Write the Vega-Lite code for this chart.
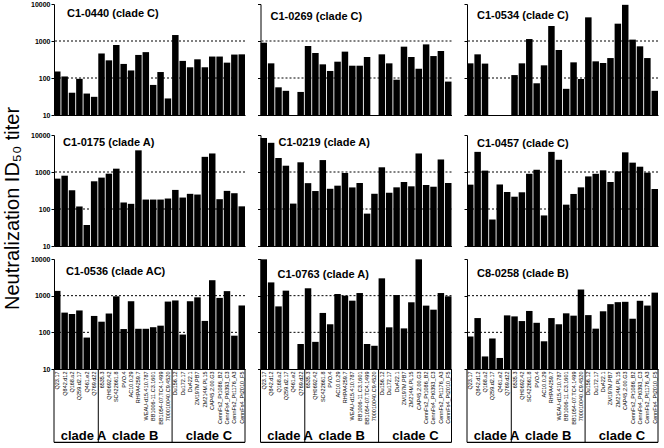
{
"$schema": "https://vega.github.io/schema/vega-lite/v6.json",
"background": "white",
"padding": {"left": 2, "top": 0, "right": 0, "bottom": 0},
"title": {"text": "Neutralization ID₅₀ titer", "orient": "left", "anchor": "middle", "fontSize": 20, "font": "Liberation Sans", "fontWeight": "normal", "color": "#000", "offset": 8, "dx": 13},
"datasets": {
"levels": [{"level": 100}, {"level": 1000}],
"panels": [
{"serum": "C1-0440", "label": "C1-0440 (clade C)"},
{"serum": "C1-0269", "label": "C1-0269 (clade C)"},
{"serum": "C1-0534", "label": "C1-0534 (clade C)"},
{"serum": "C1-0175", "label": "C1-0175 (clade A)"},
{"serum": "C1-0219", "label": "C1-0219 (clade A)"},
{"serum": "C1-0457", "label": "C1-0457 (clade C)"},
{"serum": "C1-0536", "label": "C1-0536 (clade AC)"},
{"serum": "C1-0763", "label": "C1-0763 (clade A)"},
{"serum": "C8-0258", "label": "C8-0258 (clade B)"}
],
"clades": [
{"clade": "clade A", "first": "Q23.17", "last": "Q769.d22", "mid": "Q461.e2"},
{"clade": "clade B", "first": "6535.3", "last": "700010040.C9.4520", "mid": "RHPA4259.7"},
{"clade": "clade C", "first": "Du156.12", "last": "CennFs4_Pt2010_F5", "mid": "CAP45.2.00.G3"}
],
"titers": [
{"serum":"C1-0440","virus":"Q23.17","titer":150},{"serum":"C1-0440","virus":"Q842.d12","titer":110},{"serum":"C1-0440","virus":"Q168.a2","titer":40},{"serum":"C1-0440","virus":"Q259.d2.17","titer":95},{"serum":"C1-0440","virus":"Q461.e2","titer":38},{"serum":"C1-0440","virus":"Q769.d22","titer":31},{"serum":"C1-0440","virus":"6535.3","titer":460},{"serum":"C1-0440","virus":"QH0692.42","titer":300},{"serum":"C1-0440","virus":"SC422661.8","titer":780},{"serum":"C1-0440","virus":"PVO.4","titer":240},{"serum":"C1-0440","virus":"AC10.0.29","titer":160},{"serum":"C1-0440","virus":"RHPA4259.7","titer":420},{"serum":"C1-0440","virus":"WEAU-d15.410.787","titer":500},{"serum":"C1-0440","virus":"BB1006-11.C3.1601","titer":65},{"serum":"C1-0440","virus":"BB1054-07.TC4.1499","titer":145},{"serum":"C1-0440","virus":"700010040.C9.4520","titer":28},{"serum":"C1-0440","virus":"Du156.12","titer":1450},{"serum":"C1-0440","virus":"Du172.17","titer":290},{"serum":"C1-0440","virus":"Du422.1","titer":195},{"serum":"C1-0440","virus":"ZM197M.PB7","titer":320},{"serum":"C1-0440","virus":"ZM214M.PL15","titer":195},{"serum":"C1-0440","virus":"CAP45.2.00.G3","titer":380},{"serum":"C1-0440","virus":"CennFs2_Pt1086_B2","titer":380},{"serum":"C1-0440","virus":"CennFs4_Pt0393_C3","titer":260},{"serum":"C1-0440","virus":"CennFs2_Pt1176_A3","titer":430},{"serum":"C1-0440","virus":"CennFs4_Pt2010_F5","titer":436},
{"serum":"C1-0269","virus":"Q23.17","titer":900},{"serum":"C1-0269","virus":"Q842.d12","titer":249},{"serum":"C1-0269","virus":"Q168.a2","titer":56},{"serum":"C1-0269","virus":"Q259.d2.17","titer":45},{"serum":"C1-0269","virus":"Q769.d22","titer":42},{"serum":"C1-0269","virus":"6535.3","titer":733},{"serum":"C1-0269","virus":"QH0692.42","titer":474},{"serum":"C1-0269","virus":"SC422661.8","titer":234},{"serum":"C1-0269","virus":"PVO.4","titer":155},{"serum":"C1-0269","virus":"AC10.0.29","titer":276},{"serum":"C1-0269","virus":"RHPA4259.7","titer":516},{"serum":"C1-0269","virus":"WEAU-d15.410.787","titer":215},{"serum":"C1-0269","virus":"BB1006-11.C3.1601","titer":215},{"serum":"C1-0269","virus":"BB1054-07.TC4.1499","titer":370},{"serum":"C1-0269","virus":"Du156.12","titer":436},{"serum":"C1-0269","virus":"Du172.17","titer":249},{"serum":"C1-0269","virus":"Du422.1","titer":90},{"serum":"C1-0269","virus":"ZM197M.PB7","titer":703},{"serum":"C1-0269","virus":"ZM214M.PL15","titer":370},{"serum":"C1-0269","virus":"CAP45.2.00.G3","titer":178},{"serum":"C1-0269","virus":"CennFs2_Pt1086_B2","titer":810},{"serum":"C1-0269","virus":"CennFs4_Pt0393_C3","titer":392},{"serum":"C1-0269","virus":"CennFs2_Pt1176_A3","titer":537},{"serum":"C1-0269","virus":"CennFs4_Pt2010_F5","titer":80},
{"serum":"C1-0534","virus":"Q23.17","titer":249},{"serum":"C1-0534","virus":"Q842.d12","titer":436},{"serum":"C1-0534","virus":"Q168.a2","titer":245},{"serum":"C1-0534","virus":"6535.3","titer":120},{"serum":"C1-0534","virus":"QH0692.42","titer":249},{"serum":"C1-0534","virus":"SC422661.8","titer":1130},{"serum":"C1-0534","virus":"PVO.4","titer":72},{"serum":"C1-0534","virus":"AC10.0.29","titer":220},{"serum":"C1-0534","virus":"RHPA4259.7","titer":2540},{"serum":"C1-0534","virus":"WEAU-d15.410.787","titer":571},{"serum":"C1-0534","virus":"BB1006-11.C3.1601","titer":51},{"serum":"C1-0534","virus":"BB1054-07.TC4.1499","titer":265},{"serum":"C1-0534","virus":"700010040.C9.4520","titer":94},{"serum":"C1-0534","virus":"Du156.12","titer":4360},{"serum":"C1-0534","virus":"Du172.17","titer":282},{"serum":"C1-0534","virus":"Du422.1","titer":254},{"serum":"C1-0534","virus":"ZM197M.PB7","titer":346},{"serum":"C1-0534","virus":"ZM214M.PL15","titer":2940},{"serum":"C1-0534","virus":"CAP45.2.00.G3","titer":9500},{"serum":"C1-0534","virus":"CennFs2_Pt1086_B2","titer":1090},{"serum":"C1-0534","virus":"CennFs4_Pt0393_C3","titer":718},{"serum":"C1-0534","virus":"CennFs2_Pt1176_A3","titer":346},{"serum":"C1-0534","virus":"CennFs4_Pt2010_F5","titer":45},
{"serum":"C1-0175","virus":"Q23.17","titer":662},{"serum":"C1-0175","virus":"Q842.d12","titer":795},{"serum":"C1-0175","virus":"Q168.a2","titer":321},{"serum":"C1-0175","virus":"Q259.d2.17","titer":117},{"serum":"C1-0175","virus":"Q461.e2","titer":37},{"serum":"C1-0175","virus":"Q769.d22","titer":561},{"serum":"C1-0175","virus":"6535.3","titer":705},{"serum":"C1-0175","virus":"QH0692.42","titer":902},{"serum":"C1-0175","virus":"SC422661.8","titer":1230},{"serum":"C1-0175","virus":"PVO.4","titer":150},{"serum":"C1-0175","virus":"AC10.0.29","titer":138},{"serum":"C1-0175","virus":"RHPA4259.7","titer":3850},{"serum":"C1-0175","virus":"WEAU-d15.410.787","titer":180},{"serum":"C1-0175","virus":"BB1006-11.C3.1601","titer":180},{"serum":"C1-0175","virus":"BB1054-07.TC4.1499","titer":180},{"serum":"C1-0175","virus":"700010040.C9.4520","titer":192},{"serum":"C1-0175","virus":"Du156.12","titer":328},{"serum":"C1-0175","virus":"Du172.17","titer":204},{"serum":"C1-0175","virus":"Du422.1","titer":257},{"serum":"C1-0175","virus":"ZM197M.PB7","titer":246},{"serum":"C1-0175","virus":"ZM214M.PL15","titer":2570},{"serum":"C1-0175","virus":"CAP45.2.00.G3","titer":3170},{"serum":"C1-0175","virus":"CennFs2_Pt1086_B2","titer":184},{"serum":"C1-0175","virus":"CennFs4_Pt0393_C3","titer":309},{"serum":"C1-0175","virus":"CennFs2_Pt1176_A3","titer":267},{"serum":"C1-0175","virus":"CennFs4_Pt2010_F5","titer":118},
{"serum":"C1-0219","virus":"Q23.17","titer":8300},{"serum":"C1-0219","virus":"Q842.d12","titer":6150},{"serum":"C1-0219","virus":"Q168.a2","titer":2390},{"serum":"C1-0219","virus":"Q259.d2.17","titer":1480},{"serum":"C1-0219","virus":"Q461.e2","titer":140},{"serum":"C1-0219","virus":"Q769.d22","titer":1830},{"serum":"C1-0219","virus":"6535.3","titer":500},{"serum":"C1-0219","virus":"QH0692.42","titer":306},{"serum":"C1-0219","virus":"SC422661.8","titer":2100},{"serum":"C1-0219","virus":"PVO.4","titer":352},{"serum":"C1-0219","virus":"AC10.0.29","titer":427},{"serum":"C1-0219","virus":"RHPA4259.7","titer":940},{"serum":"C1-0219","virus":"WEAU-d15.410.787","titer":383},{"serum":"C1-0219","virus":"BB1006-11.C3.1601","titer":504},{"serum":"C1-0219","virus":"BB1054-07.TC4.1499","titer":75},{"serum":"C1-0219","virus":"700010040.C9.4520","titer":258},{"serum":"C1-0219","virus":"Du156.12","titer":1340},{"serum":"C1-0219","virus":"Du172.17","titer":275},{"serum":"C1-0219","virus":"Du422.1","titer":385},{"serum":"C1-0219","virus":"ZM197M.PB7","titer":537},{"serum":"C1-0219","virus":"ZM214M.PL15","titer":410},{"serum":"C1-0219","virus":"CAP45.2.00.G3","titer":3170},{"serum":"C1-0219","virus":"CennFs2_Pt1086_B2","titer":445},{"serum":"C1-0219","virus":"CennFs4_Pt0393_C3","titer":400},{"serum":"C1-0219","virus":"CennFs2_Pt1176_A3","titer":2180},{"serum":"C1-0219","virus":"CennFs4_Pt2010_F5","titer":504},
{"serum":"C1-0457","virus":"Q23.17","titer":455},{"serum":"C1-0457","virus":"Q842.d12","titer":3500},{"serum":"C1-0457","virus":"Q168.a2","titer":1090},{"serum":"C1-0457","virus":"Q259.d2.17","titer":52},{"serum":"C1-0457","virus":"Q461.e2","titer":460},{"serum":"C1-0457","virus":"Q769.d22","titer":288},{"serum":"C1-0457","virus":"6535.3","titer":215},{"serum":"C1-0457","virus":"QH0692.42","titer":283},{"serum":"C1-0457","virus":"SC422661.8","titer":895},{"serum":"C1-0457","virus":"PVO.4","titer":1150},{"serum":"C1-0457","virus":"AC10.0.29","titer":67},{"serum":"C1-0457","virus":"RHPA4259.7","titer":3500},{"serum":"C1-0457","virus":"WEAU-d15.410.787","titer":2140},{"serum":"C1-0457","virus":"BB1006-11.C3.1601","titer":131},{"serum":"C1-0457","virus":"BB1054-07.TC4.1499","titer":255},{"serum":"C1-0457","virus":"700010040.C9.4520","titer":385},{"serum":"C1-0457","virus":"Du156.12","titer":760},{"serum":"C1-0457","virus":"Du172.17","titer":895},{"serum":"C1-0457","virus":"Du422.1","titer":1110},{"serum":"C1-0457","virus":"ZM197M.PB7","titer":537},{"serum":"C1-0457","virus":"ZM214M.PL15","titer":1040},{"serum":"C1-0457","virus":"CAP45.2.00.G3","titer":3400},{"serum":"C1-0457","virus":"CennFs2_Pt1086_B2","titer":1790},{"serum":"C1-0457","virus":"CennFs4_Pt0393_C3","titer":1390},{"serum":"C1-0457","virus":"CennFs2_Pt1176_A3","titer":960},{"serum":"C1-0457","virus":"CennFs4_Pt2010_F5","titer":347},
{"serum":"C1-0536","virus":"Q23.17","titer":1350},{"serum":"C1-0536","virus":"Q842.d12","titer":345},{"serum":"C1-0536","virus":"Q168.a2","titer":316},{"serum":"C1-0536","virus":"Q259.d2.17","titer":395},{"serum":"C1-0536","virus":"Q461.e2","titer":72},{"serum":"C1-0536","virus":"Q769.d22","titer":280},{"serum":"C1-0536","virus":"6535.3","titer":195},{"serum":"C1-0536","virus":"QH0692.42","titer":326},{"serum":"C1-0536","virus":"SC422661.8","titer":960},{"serum":"C1-0536","virus":"PVO.4","titer":123},{"serum":"C1-0536","virus":"AC10.0.29","titer":705},{"serum":"C1-0536","virus":"RHPA4259.7","titer":125},{"serum":"C1-0536","virus":"WEAU-d15.410.787","titer":125},{"serum":"C1-0536","virus":"BB1006-11.C3.1601","titer":138},{"serum":"C1-0536","virus":"BB1054-07.TC4.1499","titer":152},{"serum":"C1-0536","virus":"700010040.C9.4520","titer":690},{"serum":"C1-0536","virus":"Du156.12","titer":740},{"serum":"C1-0536","virus":"Du172.17","titer":87},{"serum":"C1-0536","virus":"Du422.1","titer":705},{"serum":"C1-0536","virus":"ZM197M.PB7","titer":900},{"serum":"C1-0536","virus":"ZM214M.PL15","titer":205},{"serum":"C1-0536","virus":"CAP45.2.00.G3","titer":2640},{"serum":"C1-0536","virus":"CennFs2_Pt1086_B2","titer":870},{"serum":"C1-0536","virus":"CennFs4_Pt0393_C3","titer":1330},{"serum":"C1-0536","virus":"CennFs2_Pt1176_A3","titer":81},{"serum":"C1-0536","virus":"CennFs4_Pt2010_F5","titer":540},
{"serum":"C1-0763","virus":"Q23.17","titer":9800},{"serum":"C1-0763","virus":"Q842.d12","titer":2300},{"serum":"C1-0763","virus":"Q168.a2","titer":510},{"serum":"C1-0763","virus":"Q259.d2.17","titer":1370},{"serum":"C1-0763","virus":"Q769.d22","titer":48},{"serum":"C1-0763","virus":"6535.3","titer":1590},{"serum":"C1-0763","virus":"QH0692.42","titer":55},{"serum":"C1-0763","virus":"SC422661.8","titer":338},{"serum":"C1-0763","virus":"PVO.4","titer":166},{"serum":"C1-0763","virus":"AC10.0.29","titer":1110},{"serum":"C1-0763","virus":"RHPA4259.7","titer":1000},{"serum":"C1-0763","virus":"WEAU-d15.410.787","titer":730},{"serum":"C1-0763","virus":"BB1006-11.C3.1601","titer":1180},{"serum":"C1-0763","virus":"BB1054-07.TC4.1499","titer":48},{"serum":"C1-0763","virus":"700010040.C9.4520","titer":43},{"serum":"C1-0763","virus":"Du156.12","titer":2970},{"serum":"C1-0763","virus":"Du172.17","titer":137},{"serum":"C1-0763","virus":"Du422.1","titer":1040},{"serum":"C1-0763","virus":"ZM197M.PB7","titer":128},{"serum":"C1-0763","virus":"ZM214M.PL15","titer":660},{"serum":"C1-0763","virus":"CAP45.2.00.G3","titer":9800},{"serum":"C1-0763","virus":"CennFs2_Pt1086_B2","titer":535},{"serum":"C1-0763","virus":"CennFs4_Pt0393_C3","titer":415},{"serum":"C1-0763","virus":"CennFs2_Pt1176_A3","titer":1180},{"serum":"C1-0763","virus":"CennFs4_Pt2010_F5","titer":960},
{"serum":"C8-0258","virus":"Q23.17","titer":77},{"serum":"C8-0258","virus":"Q842.d12","titer":245},{"serum":"C8-0258","virus":"Q168.a2","titer":22},{"serum":"C8-0258","virus":"Q259.d2.17","titer":68},{"serum":"C8-0258","virus":"Q461.e2","titer":20},{"serum":"C8-0258","virus":"Q769.d22","titer":290},{"serum":"C8-0258","virus":"6535.3","titer":272},{"serum":"C8-0258","virus":"QH0692.42","titer":203},{"serum":"C8-0258","virus":"SC422661.8","titer":383},{"serum":"C8-0258","virus":"PVO.4","titer":182},{"serum":"C8-0258","virus":"AC10.0.29","titer":57},{"serum":"C8-0258","virus":"RHPA4259.7","titer":245},{"serum":"C8-0258","virus":"WEAU-d15.410.787","titer":166},{"serum":"C8-0258","virus":"BB1006-11.C3.1601","titer":330},{"serum":"C8-0258","virus":"BB1054-07.TC4.1499","titer":285},{"serum":"C8-0258","virus":"700010040.C9.4520","titer":1470},{"serum":"C8-0258","virus":"Du156.12","titer":295},{"serum":"C8-0258","virus":"Du172.17","titer":126},{"serum":"C8-0258","virus":"Du422.1","titer":375},{"serum":"C8-0258","virus":"ZM197M.PB7","titer":587},{"serum":"C8-0258","virus":"ZM214M.PL15","titer":665},{"serum":"C8-0258","virus":"CAP45.2.00.G3","titer":680},{"serum":"C8-0258","virus":"CennFs2_Pt1086_B2","titer":235},{"serum":"C8-0258","virus":"CennFs4_Pt0393_C3","titer":725},{"serum":"C8-0258","virus":"CennFs2_Pt1176_A3","titer":537},{"serum":"C8-0258","virus":"CennFs4_Pt2010_F5","titer":1210}
]
},
"spacing": 6,
"vconcat": [
{"spacing": 13, "vconcat": [
{"spacing": 15.5, "bounds": "flush", "hconcat": [
{"width":191,"height":111,"layer":[
{"data":{"name":"levels"},"mark":{"type":"rule","color":"#000","strokeWidth":1,"strokeDash":[2,2]},"encoding":{"y":{"field":"level","type":"quantitative","scale":{"type":"log","domain":[10,10000],"nice":false},"axis":{"values":[10,100,1000,10000],"format":"d","title":null,"grid":false,"domain":true,"tickSize":3,"labelFontSize":7,"labelFontWeight":"bold","labelFont":"Liberation Sans","labelPadding":1}}}},
{"data":{"name":"titers"},"transform":[{"filter":"datum.serum === 'C1-0440'"}],"mark":{"type":"bar","color":"#000"},"encoding":{"x":{"field":"virus","type":"nominal","scale":{"domain":["Q23.17","Q842.d12","Q168.a2","Q259.d2.17","Q461.e2","Q769.d22","6535.3","QH0692.42","SC422661.8","PVO.4","AC10.0.29","RHPA4259.7","WEAU-d15.410.787","BB1006-11.C3.1601","BB1054-07.TC4.1499","700010040.C9.4520","Du156.12","Du172.17","Du422.1","ZM197M.PB7","ZM214M.PL15","CAP45.2.00.G3","CennFs2_Pt1086_B2","CennFs4_Pt0393_C3","CennFs2_Pt1176_A3","CennFs4_Pt2010_F5"],"paddingInner":0.12,"paddingOuter":0},"axis":{"labels":false,"ticks":false,"domain":true,"title":null}},"y":{"field":"titer","type":"quantitative","stack":null},"y2":{"datum":10}}},
{"data":{"name":"panels"},"transform":[{"filter":"datum.serum === 'C1-0440'"}],"mark":{"type":"text","align":"left","baseline":"middle","font":"Liberation Sans","fontWeight":"bold","fontSize":11,"dx":13,"dy":10},"encoding":{"x":{"datum":"Q23.17","type":"nominal","bandPosition":0},"y":{"datum":10000,"type":"quantitative"},"text":{"field":"label"}}}
]},
{"width":191,"height":111,"layer":[
{"data":{"name":"levels"},"mark":{"type":"rule","color":"#000","strokeWidth":1,"strokeDash":[2,2]},"encoding":{"y":{"field":"level","type":"quantitative","scale":{"type":"log","domain":[10,10000],"nice":false},"axis":{"values":[10,100,1000,10000],"labels":false,"title":null,"grid":false,"domain":true,"tickSize":3}}}},
{"data":{"name":"titers"},"transform":[{"filter":"datum.serum === 'C1-0269'"}],"mark":{"type":"bar","color":"#000"},"encoding":{"x":{"field":"virus","type":"nominal","scale":{"domain":["Q23.17","Q842.d12","Q168.a2","Q259.d2.17","Q461.e2","Q769.d22","6535.3","QH0692.42","SC422661.8","PVO.4","AC10.0.29","RHPA4259.7","WEAU-d15.410.787","BB1006-11.C3.1601","BB1054-07.TC4.1499","700010040.C9.4520","Du156.12","Du172.17","Du422.1","ZM197M.PB7","ZM214M.PL15","CAP45.2.00.G3","CennFs2_Pt1086_B2","CennFs4_Pt0393_C3","CennFs2_Pt1176_A3","CennFs4_Pt2010_F5"],"paddingInner":0.12,"paddingOuter":0},"axis":{"labels":false,"ticks":false,"domain":true,"title":null}},"y":{"field":"titer","type":"quantitative","stack":null},"y2":{"datum":10}}},
{"data":{"name":"panels"},"transform":[{"filter":"datum.serum === 'C1-0269'"}],"mark":{"type":"text","align":"left","baseline":"middle","font":"Liberation Sans","fontWeight":"bold","fontSize":11,"dx":10,"dy":13},"encoding":{"x":{"datum":"Q23.17","type":"nominal","bandPosition":0},"y":{"datum":10000,"type":"quantitative"},"text":{"field":"label"}}}
]},
{"width":191,"height":111,"layer":[
{"data":{"name":"levels"},"mark":{"type":"rule","color":"#000","strokeWidth":1,"strokeDash":[2,2]},"encoding":{"y":{"field":"level","type":"quantitative","scale":{"type":"log","domain":[10,10000],"nice":false},"axis":{"values":[10,100,1000,10000],"labels":false,"title":null,"grid":false,"domain":true,"tickSize":3}}}},
{"data":{"name":"titers"},"transform":[{"filter":"datum.serum === 'C1-0534'"}],"mark":{"type":"bar","color":"#000"},"encoding":{"x":{"field":"virus","type":"nominal","scale":{"domain":["Q23.17","Q842.d12","Q168.a2","Q259.d2.17","Q461.e2","Q769.d22","6535.3","QH0692.42","SC422661.8","PVO.4","AC10.0.29","RHPA4259.7","WEAU-d15.410.787","BB1006-11.C3.1601","BB1054-07.TC4.1499","700010040.C9.4520","Du156.12","Du172.17","Du422.1","ZM197M.PB7","ZM214M.PL15","CAP45.2.00.G3","CennFs2_Pt1086_B2","CennFs4_Pt0393_C3","CennFs2_Pt1176_A3","CennFs4_Pt2010_F5"],"paddingInner":0.12,"paddingOuter":0},"axis":{"labels":false,"ticks":false,"domain":true,"title":null}},"y":{"field":"titer","type":"quantitative","stack":null},"y2":{"datum":10}}},
{"data":{"name":"panels"},"transform":[{"filter":"datum.serum === 'C1-0534'"}],"mark":{"type":"text","align":"left","baseline":"middle","font":"Liberation Sans","fontWeight":"bold","fontSize":11,"dx":10,"dy":12},"encoding":{"x":{"datum":"Q23.17","type":"nominal","bandPosition":0},"y":{"datum":10000,"type":"quantitative"},"text":{"field":"label"}}}
]}
]},
{"spacing": 15.5, "bounds": "flush", "hconcat": [
{"width":191,"height":111,"layer":[
{"data":{"name":"levels"},"mark":{"type":"rule","color":"#000","strokeWidth":1,"strokeDash":[2,2]},"encoding":{"y":{"field":"level","type":"quantitative","scale":{"type":"log","domain":[10,10000],"nice":false},"axis":{"values":[10,100,1000,10000],"format":"d","title":null,"grid":false,"domain":true,"tickSize":3,"labelFontSize":7,"labelFontWeight":"bold","labelFont":"Liberation Sans","labelPadding":1}}}},
{"data":{"name":"titers"},"transform":[{"filter":"datum.serum === 'C1-0175'"}],"mark":{"type":"bar","color":"#000"},"encoding":{"x":{"field":"virus","type":"nominal","scale":{"domain":["Q23.17","Q842.d12","Q168.a2","Q259.d2.17","Q461.e2","Q769.d22","6535.3","QH0692.42","SC422661.8","PVO.4","AC10.0.29","RHPA4259.7","WEAU-d15.410.787","BB1006-11.C3.1601","BB1054-07.TC4.1499","700010040.C9.4520","Du156.12","Du172.17","Du422.1","ZM197M.PB7","ZM214M.PL15","CAP45.2.00.G3","CennFs2_Pt1086_B2","CennFs4_Pt0393_C3","CennFs2_Pt1176_A3","CennFs4_Pt2010_F5"],"paddingInner":0.12,"paddingOuter":0},"axis":{"labels":false,"ticks":false,"domain":true,"title":null}},"y":{"field":"titer","type":"quantitative","stack":null},"y2":{"datum":10}}},
{"data":{"name":"panels"},"transform":[{"filter":"datum.serum === 'C1-0175'"}],"mark":{"type":"text","align":"left","baseline":"middle","font":"Liberation Sans","fontWeight":"bold","fontSize":11,"dx":9,"dy":8},"encoding":{"x":{"datum":"Q23.17","type":"nominal","bandPosition":0},"y":{"datum":10000,"type":"quantitative"},"text":{"field":"label"}}}
]},
{"width":191,"height":111,"layer":[
{"data":{"name":"levels"},"mark":{"type":"rule","color":"#000","strokeWidth":1,"strokeDash":[2,2]},"encoding":{"y":{"field":"level","type":"quantitative","scale":{"type":"log","domain":[10,10000],"nice":false},"axis":{"values":[10,100,1000,10000],"labels":false,"title":null,"grid":false,"domain":true,"tickSize":3}}}},
{"data":{"name":"titers"},"transform":[{"filter":"datum.serum === 'C1-0219'"}],"mark":{"type":"bar","color":"#000"},"encoding":{"x":{"field":"virus","type":"nominal","scale":{"domain":["Q23.17","Q842.d12","Q168.a2","Q259.d2.17","Q461.e2","Q769.d22","6535.3","QH0692.42","SC422661.8","PVO.4","AC10.0.29","RHPA4259.7","WEAU-d15.410.787","BB1006-11.C3.1601","BB1054-07.TC4.1499","700010040.C9.4520","Du156.12","Du172.17","Du422.1","ZM197M.PB7","ZM214M.PL15","CAP45.2.00.G3","CennFs2_Pt1086_B2","CennFs4_Pt0393_C3","CennFs2_Pt1176_A3","CennFs4_Pt2010_F5"],"paddingInner":0.12,"paddingOuter":0},"axis":{"labels":false,"ticks":false,"domain":true,"title":null}},"y":{"field":"titer","type":"quantitative","stack":null},"y2":{"datum":10}}},
{"data":{"name":"panels"},"transform":[{"filter":"datum.serum === 'C1-0219'"}],"mark":{"type":"text","align":"left","baseline":"middle","font":"Liberation Sans","fontWeight":"bold","fontSize":11,"dx":18,"dy":8},"encoding":{"x":{"datum":"Q23.17","type":"nominal","bandPosition":0},"y":{"datum":10000,"type":"quantitative"},"text":{"field":"label"}}}
]},
{"width":191,"height":111,"layer":[
{"data":{"name":"levels"},"mark":{"type":"rule","color":"#000","strokeWidth":1,"strokeDash":[2,2]},"encoding":{"y":{"field":"level","type":"quantitative","scale":{"type":"log","domain":[10,10000],"nice":false},"axis":{"values":[10,100,1000,10000],"labels":false,"title":null,"grid":false,"domain":true,"tickSize":3}}}},
{"data":{"name":"titers"},"transform":[{"filter":"datum.serum === 'C1-0457'"}],"mark":{"type":"bar","color":"#000"},"encoding":{"x":{"field":"virus","type":"nominal","scale":{"domain":["Q23.17","Q842.d12","Q168.a2","Q259.d2.17","Q461.e2","Q769.d22","6535.3","QH0692.42","SC422661.8","PVO.4","AC10.0.29","RHPA4259.7","WEAU-d15.410.787","BB1006-11.C3.1601","BB1054-07.TC4.1499","700010040.C9.4520","Du156.12","Du172.17","Du422.1","ZM197M.PB7","ZM214M.PL15","CAP45.2.00.G3","CennFs2_Pt1086_B2","CennFs4_Pt0393_C3","CennFs2_Pt1176_A3","CennFs4_Pt2010_F5"],"paddingInner":0.12,"paddingOuter":0},"axis":{"labels":false,"ticks":false,"domain":true,"title":null}},"y":{"field":"titer","type":"quantitative","stack":null},"y2":{"datum":10}}},
{"data":{"name":"panels"},"transform":[{"filter":"datum.serum === 'C1-0457'"}],"mark":{"type":"text","align":"left","baseline":"middle","font":"Liberation Sans","fontWeight":"bold","fontSize":11,"dx":10,"dy":9},"encoding":{"x":{"datum":"Q23.17","type":"nominal","bandPosition":0},"y":{"datum":10000,"type":"quantitative"},"text":{"field":"label"}}}
]}
]}
]},
{"spacing": 15.5, "bounds": "flush", "hconcat": [
{"width":191,"height":110,"layer":[
{"data":{"name":"levels"},"mark":{"type":"rule","color":"#000","strokeWidth":1,"strokeDash":[2,2]},"encoding":{"y":{"field":"level","type":"quantitative","scale":{"type":"log","domain":[10,10000],"nice":false},"axis":{"values":[10,100,1000,10000],"format":"d","title":null,"grid":false,"domain":true,"tickSize":3,"labelFontSize":7,"labelFontWeight":"bold","labelFont":"Liberation Sans","labelPadding":1}}}},
{"data":{"name":"titers"},"transform":[{"filter":"datum.serum === 'C1-0536'"}],"mark":{"type":"bar","color":"#000"},"encoding":{"x":{"field":"virus","type":"nominal","scale":{"domain":["Q23.17","Q842.d12","Q168.a2","Q259.d2.17","Q461.e2","Q769.d22","6535.3","QH0692.42","SC422661.8","PVO.4","AC10.0.29","RHPA4259.7","WEAU-d15.410.787","BB1006-11.C3.1601","BB1054-07.TC4.1499","700010040.C9.4520","Du156.12","Du172.17","Du422.1","ZM197M.PB7","ZM214M.PL15","CAP45.2.00.G3","CennFs2_Pt1086_B2","CennFs4_Pt0393_C3","CennFs2_Pt1176_A3","CennFs4_Pt2010_F5"],"paddingInner":0.12,"paddingOuter":0},"axis":{"labelAngle":-90,"labelFontSize":5.5,"labelFont":"Liberation Sans","ticks":false,"domain":true,"labelPadding":2,"title":null}},"y":{"field":"titer","type":"quantitative","stack":null},"y2":{"datum":10}}},
{"data":{"name":"panels"},"transform":[{"filter":"datum.serum === 'C1-0536'"}],"mark":{"type":"text","align":"left","baseline":"middle","font":"Liberation Sans","fontWeight":"bold","fontSize":11,"dx":12,"dy":13},"encoding":{"x":{"datum":"Q23.17","type":"nominal","bandPosition":0},"y":{"datum":10000,"type":"quantitative"},"text":{"field":"label"}}},
{"data":{"name":"clades"},"mark":{"type":"rule","color":"#000","strokeWidth":1},"encoding":{"x":{"field":"first","type":"nominal","bandPosition":0},"y":{"datum":10,"type":"quantitative"},"y2":{"datum":0.1}}},
{"data":{"name":"clades"},"transform":[{"filter":"datum.clade === 'clade C'"}],"mark":{"type":"rule","color":"#000","strokeWidth":1},"encoding":{"x":{"field":"last","type":"nominal","bandPosition":1},"y":{"datum":10,"type":"quantitative"},"y2":{"datum":0.1}}},
{"data":{"name":"clades"},"transform":[{"filter":"datum.clade === 'clade A'"}],"mark":{"type":"rule","color":"#000","strokeWidth":1.2},"encoding":{"y":{"datum":0.1,"type":"quantitative"}}},
{"data":{"name":"clades"},"mark":{"type":"text","align":"center","baseline":"alphabetic","font":"Liberation Sans","fontWeight":"bold","fontSize":13},"encoding":{"x":{"field":"mid","type":"nominal","bandPosition":0},"y":{"datum":0.117,"type":"quantitative"},"text":{"field":"clade"}}}
]},
{"width":191,"height":110,"layer":[
{"data":{"name":"levels"},"mark":{"type":"rule","color":"#000","strokeWidth":1,"strokeDash":[2,2]},"encoding":{"y":{"field":"level","type":"quantitative","scale":{"type":"log","domain":[10,10000],"nice":false},"axis":{"values":[10,100,1000,10000],"labels":false,"title":null,"grid":false,"domain":true,"tickSize":3}}}},
{"data":{"name":"titers"},"transform":[{"filter":"datum.serum === 'C1-0763'"}],"mark":{"type":"bar","color":"#000"},"encoding":{"x":{"field":"virus","type":"nominal","scale":{"domain":["Q23.17","Q842.d12","Q168.a2","Q259.d2.17","Q461.e2","Q769.d22","6535.3","QH0692.42","SC422661.8","PVO.4","AC10.0.29","RHPA4259.7","WEAU-d15.410.787","BB1006-11.C3.1601","BB1054-07.TC4.1499","700010040.C9.4520","Du156.12","Du172.17","Du422.1","ZM197M.PB7","ZM214M.PL15","CAP45.2.00.G3","CennFs2_Pt1086_B2","CennFs4_Pt0393_C3","CennFs2_Pt1176_A3","CennFs4_Pt2010_F5"],"paddingInner":0.12,"paddingOuter":0},"axis":{"labelAngle":-90,"labelFontSize":5.5,"labelFont":"Liberation Sans","ticks":false,"domain":true,"labelPadding":2,"title":null}},"y":{"field":"titer","type":"quantitative","stack":null},"y2":{"datum":10}}},
{"data":{"name":"panels"},"transform":[{"filter":"datum.serum === 'C1-0763'"}],"mark":{"type":"text","align":"left","baseline":"middle","font":"Liberation Sans","fontWeight":"bold","fontSize":11,"dx":17,"dy":16},"encoding":{"x":{"datum":"Q23.17","type":"nominal","bandPosition":0},"y":{"datum":10000,"type":"quantitative"},"text":{"field":"label"}}},
{"data":{"name":"clades"},"mark":{"type":"rule","color":"#000","strokeWidth":1},"encoding":{"x":{"field":"first","type":"nominal","bandPosition":0},"y":{"datum":10,"type":"quantitative"},"y2":{"datum":0.1}}},
{"data":{"name":"clades"},"transform":[{"filter":"datum.clade === 'clade C'"}],"mark":{"type":"rule","color":"#000","strokeWidth":1},"encoding":{"x":{"field":"last","type":"nominal","bandPosition":1},"y":{"datum":10,"type":"quantitative"},"y2":{"datum":0.1}}},
{"data":{"name":"clades"},"transform":[{"filter":"datum.clade === 'clade A'"}],"mark":{"type":"rule","color":"#000","strokeWidth":1.2},"encoding":{"y":{"datum":0.1,"type":"quantitative"}}},
{"data":{"name":"clades"},"mark":{"type":"text","align":"center","baseline":"alphabetic","font":"Liberation Sans","fontWeight":"bold","fontSize":13},"encoding":{"x":{"field":"mid","type":"nominal","bandPosition":0},"y":{"datum":0.117,"type":"quantitative"},"text":{"field":"clade"}}}
]},
{"width":191,"height":110,"layer":[
{"data":{"name":"levels"},"mark":{"type":"rule","color":"#000","strokeWidth":1,"strokeDash":[2,2]},"encoding":{"y":{"field":"level","type":"quantitative","scale":{"type":"log","domain":[10,10000],"nice":false},"axis":{"values":[10,100,1000,10000],"labels":false,"title":null,"grid":false,"domain":true,"tickSize":3}}}},
{"data":{"name":"titers"},"transform":[{"filter":"datum.serum === 'C8-0258'"}],"mark":{"type":"bar","color":"#000"},"encoding":{"x":{"field":"virus","type":"nominal","scale":{"domain":["Q23.17","Q842.d12","Q168.a2","Q259.d2.17","Q461.e2","Q769.d22","6535.3","QH0692.42","SC422661.8","PVO.4","AC10.0.29","RHPA4259.7","WEAU-d15.410.787","BB1006-11.C3.1601","BB1054-07.TC4.1499","700010040.C9.4520","Du156.12","Du172.17","Du422.1","ZM197M.PB7","ZM214M.PL15","CAP45.2.00.G3","CennFs2_Pt1086_B2","CennFs4_Pt0393_C3","CennFs2_Pt1176_A3","CennFs4_Pt2010_F5"],"paddingInner":0.12,"paddingOuter":0},"axis":{"labelAngle":-90,"labelFontSize":5.5,"labelFont":"Liberation Sans","ticks":false,"domain":true,"labelPadding":2,"title":null}},"y":{"field":"titer","type":"quantitative","stack":null},"y2":{"datum":10}}},
{"data":{"name":"panels"},"transform":[{"filter":"datum.serum === 'C8-0258'"}],"mark":{"type":"text","align":"left","baseline":"middle","font":"Liberation Sans","fontWeight":"bold","fontSize":11,"dx":10,"dy":15},"encoding":{"x":{"datum":"Q23.17","type":"nominal","bandPosition":0},"y":{"datum":10000,"type":"quantitative"},"text":{"field":"label"}}},
{"data":{"name":"clades"},"mark":{"type":"rule","color":"#000","strokeWidth":1},"encoding":{"x":{"field":"first","type":"nominal","bandPosition":0},"y":{"datum":10,"type":"quantitative"},"y2":{"datum":0.1}}},
{"data":{"name":"clades"},"transform":[{"filter":"datum.clade === 'clade C'"}],"mark":{"type":"rule","color":"#000","strokeWidth":1},"encoding":{"x":{"field":"last","type":"nominal","bandPosition":1},"y":{"datum":10,"type":"quantitative"},"y2":{"datum":0.1}}},
{"data":{"name":"clades"},"transform":[{"filter":"datum.clade === 'clade A'"}],"mark":{"type":"rule","color":"#000","strokeWidth":1.2},"encoding":{"y":{"datum":0.1,"type":"quantitative"}}},
{"data":{"name":"clades"},"mark":{"type":"text","align":"center","baseline":"alphabetic","font":"Liberation Sans","fontWeight":"bold","fontSize":13},"encoding":{"x":{"field":"mid","type":"nominal","bandPosition":0},"y":{"datum":0.117,"type":"quantitative"},"text":{"field":"clade"}}}
]}
]}
],
"config": {"view": {"stroke": null}, "font": "Liberation Sans", "axis": {"domain": true, "domainColor": "#000", "tickColor": "#000", "labelColor": "#000", "domainWidth": 1, "tickWidth": 1, "grid": false}}
}
